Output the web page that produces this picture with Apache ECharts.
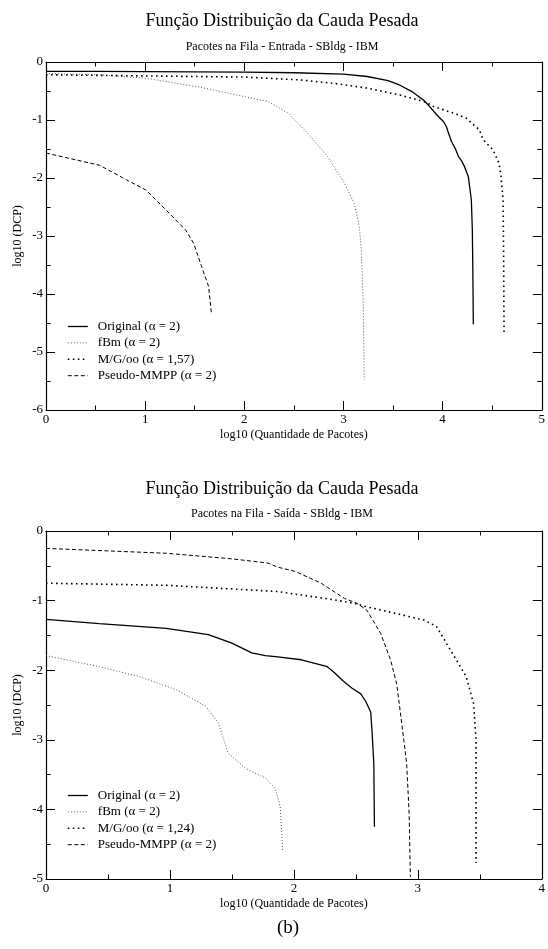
<!DOCTYPE html>
<html><head><meta charset="utf-8">
<script src="https://cdn.jsdelivr.net/npm/echarts@6/dist/echarts.min.js"></script>
<style>html,body{margin:0;padding:0;background:#fff}#c{width:548px;height:949px}</style>
</head><body><div id="c"></div>
<script>
const FONT = "'Liberation Serif','Times New Roman',serif";

// ---------- Chart A: Entrada ----------
const titleA = 'Função Distribuição da Cauda Pesada';
const subA = 'Pacotes na Fila - Entrada - SBldg - IBM';
const namesA = ['Original (α = 2)', 'fBm (α = 2)', 'M/G/oo (α = 1,57)', 'Pseudo-MMPP (α = 2)'];
const xTicksA = [0, 5];
const yTicksA = [-6, 0];

const origAx = [0, 0.5, 1.0, 1.5, 2.0, 2.5, 3.0, 3.24, 3.45, 3.57, 3.7, 3.81, 3.87, 3.94, 4.01, 4.04, 4.06, 4.09, 4.13, 4.16, 4.19, 4.22, 4.26, 4.29, 4.30, 4.305, 4.31];
const origAy = [-0.16, -0.16, -0.165, -0.17, -0.175, -0.185, -0.21, -0.25, -0.32, -0.40, -0.52, -0.66, -0.77, -0.91, -1.03, -1.12, -1.23, -1.37, -1.50, -1.63, -1.70, -1.80, -1.98, -2.38, -2.9, -3.6, -4.52];

const fbmAx = [0, 0.54, 1.01, 1.54, 2.01, 2.24, 2.34, 2.44, 2.64, 2.84, 3.01, 3.11, 3.16, 3.18, 3.20, 3.21];
const fbmAy = [-0.2, -0.22, -0.28, -0.43, -0.6, -0.68, -0.78, -0.88, -1.23, -1.63, -2.09, -2.44, -2.84, -3.24, -4.2, -5.48];

const mgAx = [0, 1.0, 2.0, 2.24, 2.57, 2.91, 3.24, 3.57, 3.81, 3.91, 4.11, 4.24, 4.37, 4.41, 4.51, 4.57, 4.59, 4.61, 4.615, 4.62];
const mgAy = [-0.22, -0.24, -0.26, -0.28, -0.31, -0.37, -0.45, -0.57, -0.68, -0.77, -0.88, -0.97, -1.17, -1.34, -1.52, -1.75, -1.98, -2.38, -3.24, -4.71];

const mmAx = [0, 0.54, 0.81, 1.01, 1.21, 1.41, 1.49, 1.57, 1.64, 1.67];
const mmAy = [-1.57, -1.78, -2.03, -2.21, -2.55, -2.9, -3.13, -3.53, -3.87, -4.36];

// ---------- Chart B: Saída ----------
const titleB = 'Função Distribuição da Cauda Pesada';
const subB = 'Pacotes na Fila - Saída - SBldg - IBM';
const namesB = ['Original (α = 2)', 'fBm (α = 2)', 'M/G/oo (α = 1,24)', 'Pseudo-MMPP (α = 2)'];
const xTicksB = [0, 4];
const yTicksB = [-5, 0];

const origBx = [0, 0.43, 0.97, 1.31, 1.50, 1.66, 1.77, 1.87, 2.06, 2.27, 2.33, 2.40, 2.47, 2.54, 2.58, 2.62, 2.63, 2.645, 2.65];
const origBy = [-1.27, -1.33, -1.40, -1.49, -1.61, -1.75, -1.79, -1.81, -1.85, -1.95, -2.04, -2.16, -2.26, -2.34, -2.45, -2.60, -2.86, -3.34, -4.25];

const fbmBx = [0, 0.43, 0.75, 1.05, 1.29, 1.39, 1.47, 1.61, 1.77, 1.85, 1.89, 1.91];
const fbmBy = [-1.79, -1.95, -2.09, -2.28, -2.52, -2.76, -3.19, -3.41, -3.55, -3.70, -3.96, -4.61];

const mgBx = [0, 0.97, 1.87, 2.06, 2.33, 2.49, 2.59, 2.81, 3.05, 3.15, 3.23, 3.31, 3.39, 3.45, 3.47, 3.47, 3.47];
const mgBy = [-0.75, -0.78, -0.87, -0.92, -0.99, -1.04, -1.09, -1.18, -1.28, -1.37, -1.61, -1.85, -2.09, -2.48, -3.00, -4.06, -4.77];

const mmBx = [0, 0.97, 1.5, 1.79, 1.87, 2.01, 2.22, 2.41, 2.51, 2.59, 2.70, 2.78, 2.83, 2.87, 2.91, 2.93, 2.94];
const mmBy = [-0.25, -0.32, -0.40, -0.46, -0.52, -0.58, -0.75, -0.97, -1.04, -1.14, -1.47, -1.85, -2.2, -2.76, -3.34, -4.06, -4.97];

const xName = 'log10 (Quantidade de Pacotes)';
const yName = 'log10 (DCP)';
const caption = '(b)';

function zip(xs, ys) { return xs.map((x, i) => [x, ys[i]]); }

function axisCommon(labels) {
  return {
    axisLine: { show: true, onZero: false, lineStyle: { color: '#000', width: 1.2 } },
    axisTick: { show: true, inside: true, length: 9, lineStyle: { color: '#000', width: 1 } },
    minorTick: { show: true, splitNumber: 2, length: 4.5, lineStyle: { color: '#000', width: 1 } },
    splitLine: { show: false }, minorSplitLine: { show: false },
    axisLabel: { show: labels, color: '#000', fontFamily: FONT, fontSize: 13, margin: 3 },
    nameMoveOverlap: false,
    nameTextStyle: { color: '#000', fontFamily: FONT, fontSize: 12 }
  };
}
function mkX(grid, range, pos, labels) {
  return Object.assign(axisCommon(labels), {
    type: 'value', gridIndex: grid, position: pos, min: range[0], max: range[1], interval: 1,
    name: labels ? xName : '', nameLocation: 'middle', nameGap: 19
  });
}
function mkY(grid, range, pos, labels) {
  return Object.assign(axisCommon(labels), {
    type: 'value', gridIndex: grid, position: pos, min: range[0], max: range[1], interval: 1,
    name: labels ? yName : '', nameLocation: 'middle', nameGap: 22, nameRotate: 90
  });
}

const styles = [
  { color: '#000', width: 1.3, type: 'solid' },
  { color: '#555', width: 1, type: [1, 2] },
  { color: '#000', width: 1.6, type: [1.6, 3.4] },
  { color: '#000', width: 1, type: [4, 2.5] }
];

function mkSeries(names, datas, xi, yi) {
  return datas.map((d, i) => ({
    type: 'line', name: names[i], data: d, xAxisIndex: xi, yAxisIndex: yi,
    symbol: 'none', showSymbol: false, smooth: false, animation: false,
    lineStyle: styles[i], itemStyle: { color: styles[i].color },
    emphasis: { disabled: true }
  }));
}

function mkLegend(names, top) {
  return {
    orient: 'vertical', left: 67, top: top, itemWidth: 20, itemHeight: 14, itemGap: 3.4,
    padding: 0, selectedMode: false, data: names,
    itemStyle: { opacity: 0 },
    lineStyle: { width: 'inherit' },
    textStyle: { color: '#000', fontFamily: FONT, fontSize: 13, padding: [0, 0, 0, 5] }
  };
}

function txt(x, y, text, size) {
  return { type: 'text', x: x, y: y, silent: true,
    style: { text: text, fill: '#000', fontFamily: FONT, fontSize: size, align: 'center', verticalAlign: 'middle' } };
}

const chart = echarts.init(document.getElementById('c'));
chart.setOption({
  animation: false,
  backgroundColor: '#fff',
  grid: [
    { left: 46, top: 62, width: 500, height: 348 },
    { left: 46, top: 531, width: 500, height: 348 }
  ],
  xAxis: [mkX(0, xTicksA, 'bottom', true), mkX(0, xTicksA, 'top', false),
          mkX(1, xTicksB, 'bottom', true), mkX(1, xTicksB, 'top', false)],
  yAxis: [mkY(0, yTicksA, 'left', true), mkY(0, yTicksA, 'right', false),
          mkY(1, yTicksB, 'left', true), mkY(1, yTicksB, 'right', false)],
  legend: [mkLegend(namesA, 320), mkLegend(namesB, 789)],
  graphic: [
    txt(282, 21, titleA, 18), txt(282, 47, subA, 12),
    txt(282, 489, titleB, 18), txt(282, 514, subB, 12),
    txt(288, 928, caption, 19)
  ],
  series: [].concat(
    mkSeries(namesA, [zip(origAx, origAy), zip(fbmAx, fbmAy), zip(mgAx, mgAy), zip(mmAx, mmAy)], 0, 0),
    mkSeries(namesB, [zip(origBx, origBy), zip(fbmBx, fbmBy), zip(mgBx, mgBy), zip(mmBx, mmBy)], 2, 2)
  )
});
</script></body></html>
